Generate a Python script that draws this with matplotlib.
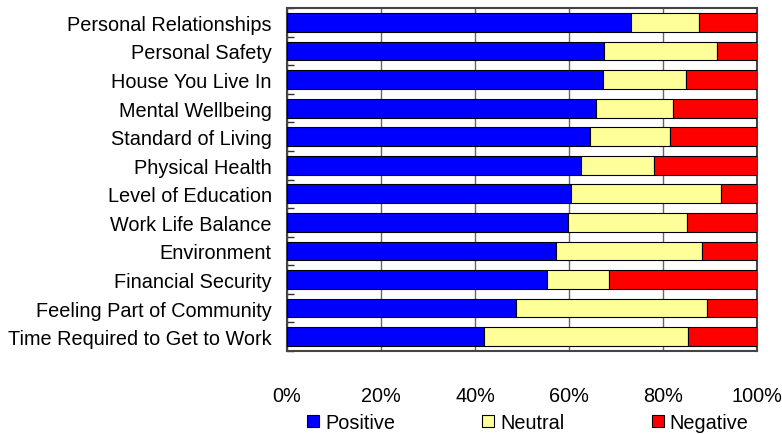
import matplotlib
matplotlib.use("Agg")
import matplotlib.pyplot as plt
import numpy as np

plt.rcParams['font.family'] = ['Liberation Sans', 'DejaVu Sans']

categories = [
    "Personal Relationships", "Personal Safety", "House You Live In",
    "Mental Wellbeing", "Standard of Living", "Physical Health",
    "Level of Education", "Work Life Balance", "Environment",
    "Financial Security", "Feeling Part of Community",
    "Time Required to Get to Work",
]
positive = [73.1, 67.5, 67.3, 65.8, 64.5, 62.6, 60.4, 59.8, 57.2, 55.3, 48.8, 42.0]
neutral = [14.5, 24.1, 17.7, 16.4, 17.1, 15.5, 31.9, 25.4, 31.2, 13.3, 40.5, 43.4]
negative = [12.4, 8.4, 15.0, 17.8, 18.4, 21.9, 7.7, 14.8, 11.6, 31.4, 10.7, 14.6]
series_names = ["Positive", "Neutral", "Negative"]
colors = ["#0000FF", "#FFFF99", "#FF0000"]
xticks = [0, 20, 40, 60, 80, 100]

fs = 14.3

fig = plt.figure(figsize=(7.82, 4.35), dpi=100)
ax = fig.add_axes([0.367, 0.191, 0.601, 0.788])

y = np.arange(len(categories))
left = np.zeros(len(categories))
handles = []
for name, vals, c in zip(series_names, [positive, neutral, negative], colors):
    h = ax.barh(y, vals, left=left, height=0.66, color=c, edgecolor='black',
                linewidth=0.8, label=name, zorder=3)
    left += np.array(vals)
    handles.append(h)

ax.set_xlim(0, 100)
ax.set_ylim(len(categories) - 0.5, -0.5)
ax.set_yticks(y)
ax.set_yticklabels(categories, fontsize=fs)
ax.set_yticks(np.arange(-0.5, len(categories), 1), minor=True)
ax.tick_params(axis='y', which='major', length=0, pad=11)
ax.tick_params(axis='y', which='minor', direction='in', length=5, width=1, color='#333333')
ax.set_xticks(xticks)
ax.set_xticklabels([f"{t}%" for t in xticks], fontsize=fs)
ax.tick_params(axis='x', length=0, pad=25)

ax.grid(axis='x', color='#666666', linewidth=1, zorder=0)
for s in ax.spines.values():
    s.set_color('#444444')
    s.set_linewidth(1.5)

fig.legend(handles=handles, labels=series_names, loc='center',
           bbox_to_anchor=(0.675, 0.026), ncol=3, frameon=False,
           fontsize=fs, handlelength=0.6, handleheight=0.6,
           handletextpad=0.3, columnspacing=4.4,
           borderpad=0.1)

fig.savefig("out.png", dpi=100)
